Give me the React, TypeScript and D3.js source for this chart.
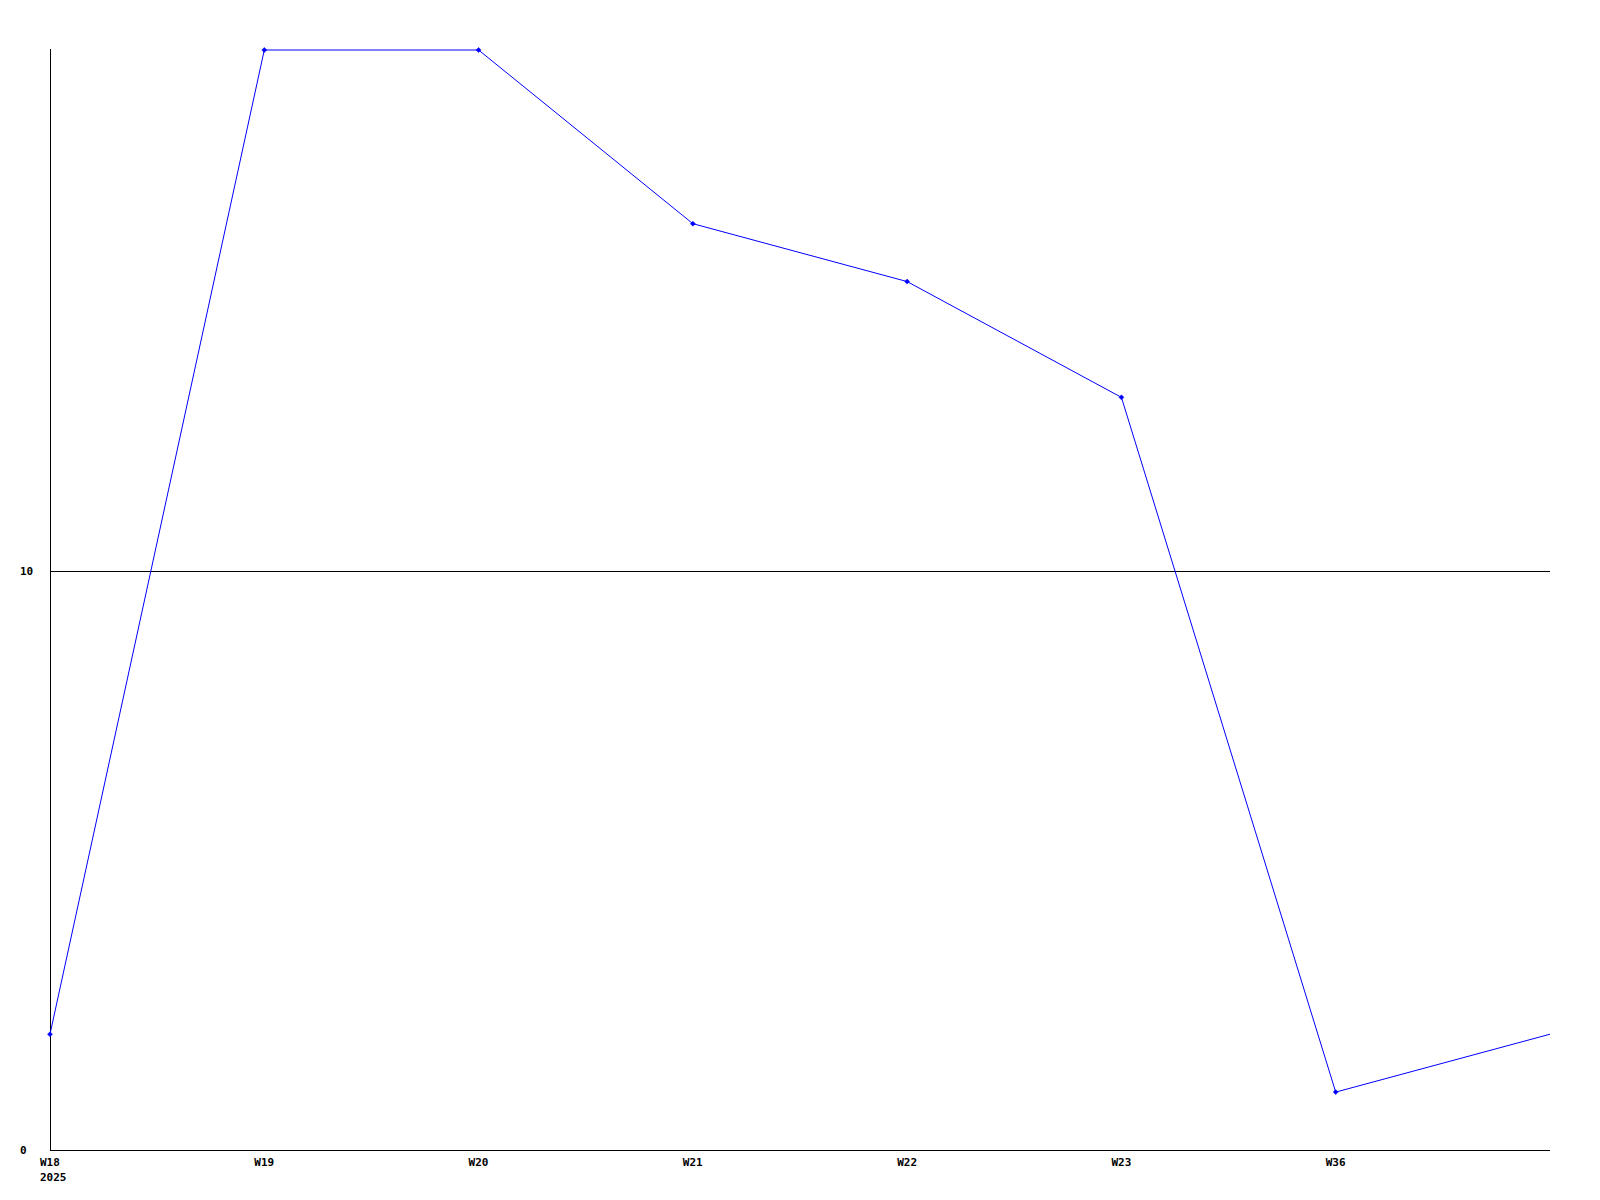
import React from "react";
import * as d3 from "d3";

const categories = ["W18", "W19", "W20", "W21", "W22", "W23", "W36", ""];
const values = [2, 19, 19, 16, 15, 13, 1, 2];
const yTicks = [0, 10];
const yearLabel = "2025";

const W = 1600;
const H = 1200;

export default function App() {
  const x = d3.scaleLinear().domain([0, categories.length - 1]).range([50, 1550]);
  const y = d3.scaleLinear().domain([0, 19]).range([1150, 50]);
  const line = d3
    .line<number>()
    .x((_, i) => x(i))
    .y((d) => y(d));
  const font = "'DejaVu Sans Mono', monospace";
  return (
    <svg
      width={W}
      height={H}
      style={{ position: "absolute", left: 0, top: 0, background: "#fff" }}
    >
      <rect x={0} y={0} width={W} height={H} fill="#fff" />
      {/* gridlines */}
      {yTicks
        .filter((t) => t !== 0)
        .map((t) => (
          <line
            key={t}
            x1={x(0)}
            x2={x(categories.length - 1)}
            y1={Math.round(y(t)) + 0.5}
            y2={Math.round(y(t)) + 0.5}
            stroke="#000"
            strokeWidth={1}
            shapeRendering="crispEdges"
          />
        ))}
      {/* axes */}
      <line
        x1={x(0) + 0.5}
        x2={x(0) + 0.5}
        y1={y(19) - 1}
        y2={y(0)}
        stroke="#000"
        shapeRendering="crispEdges"
      />
      <line
        x1={x(0)}
        x2={x(categories.length - 1)}
        y1={y(0) + 0.5}
        y2={y(0) + 0.5}
        stroke="#000"
        shapeRendering="crispEdges"
      />
      {/* y labels */}
      {yTicks.map((t) => (
        <text
          key={t}
          x={20}
          y={y(t)}
          dy="0.35em"
          fontFamily={font}
          fontWeight="bold"
          fontSize={11}
          fill="#000"
        >
          {t}
        </text>
      ))}
      {/* x labels */}
      {categories.map((c, i) =>
        c ? (
          <text
            key={c}
            x={x(i) - 10}
            y={1166}
            fontFamily={font}
            fontWeight="bold"
            fontSize={11}
            fill="#000"
          >
            {c}
          </text>
        ) : null
      )}
      <text
        x={x(0) - 10}
        y={1181}
        fontFamily={font}
        fontWeight="bold"
        fontSize={11}
        fill="#000"
      >
        {yearLabel}
      </text>
      {/* series */}
      <path
        d={line(values) || ""}
        fill="none"
        stroke="#0000ff"
        strokeWidth={1}
      />
      {values.map((v, i) =>
        categories[i] ? (
          <path
            key={i}
            d={`M${x(i)},${y(v) - 2.5}L${x(i) + 2.5},${y(v)}L${x(i)},${y(v) + 2.5}L${x(i) - 2.5},${y(v)}Z`}
            fill="#0000ff"
            stroke="#0000ff"
            strokeWidth={0.5}
          />
        ) : null
      )}
    </svg>
  );
}
